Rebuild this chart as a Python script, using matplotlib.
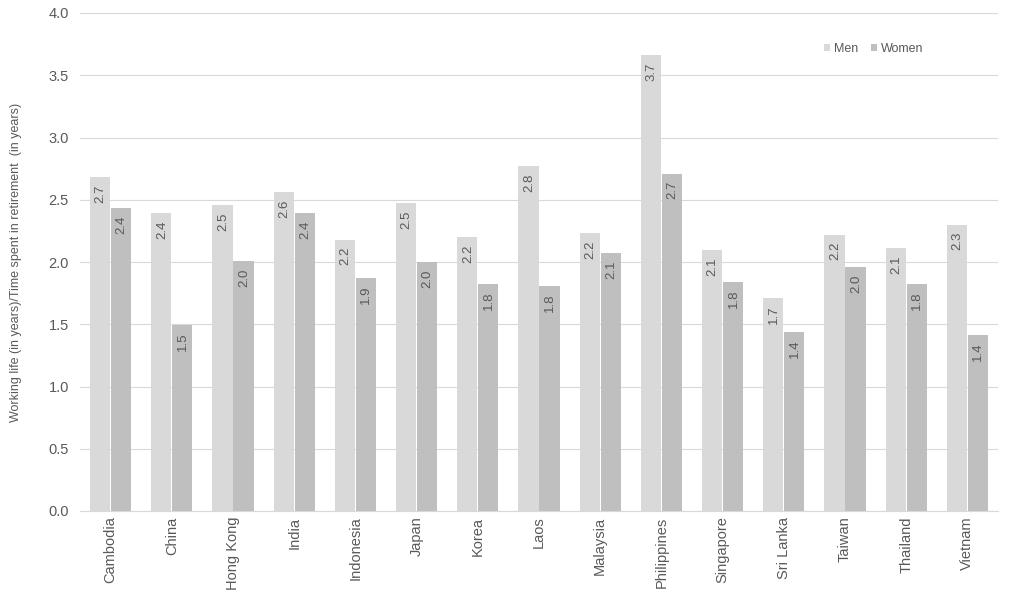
import matplotlib.pyplot as plt
import numpy as np

# Datos
paises = ['Cambodia', 'China', 'Hong Kong', 'India', 'Indonesia', 'Japan', 'Korea', 'Laos',
          'Malaysia', 'Philippines', 'Singapore', 'Sri Lanka', 'Taiwan', 'Thailand', 'Vietnam']
hombres = [2.68, 2.39, 2.46, 2.56, 2.18, 2.47, 2.20, 2.77, 2.23, 3.66, 2.10, 1.71, 2.22, 2.11, 2.30]
mujeres = [2.43, 1.49, 2.01, 2.39, 1.87, 2.00, 1.82, 1.81, 2.07, 2.71, 1.84, 1.44, 1.96, 1.82, 1.41]

gris_texto = '#595959'
plt.rcParams['font.family'] = ['Liberation Sans', 'DejaVu Sans']

fig = plt.figure(figsize=(10.15, 6.08), dpi=100)
ax = fig.add_axes([80 / 1015, 1 - 511 / 608, 918 / 1015, 498 / 608])

x = np.arange(len(paises))
ancho = 0.33
b1 = ax.bar(x - ancho / 2 - 0.005, hombres, ancho, color='#d9d9d9', label='Men', zorder=2)
b2 = ax.bar(x + ancho / 2 + 0.005, mujeres, ancho, color='#bfbfbf', label='Women', zorder=2)

# Etiquetas de valor dentro de la barra, giradas
for barras in (b1, b2):
    for b in barras:
        h = b.get_height()
        ax.text(b.get_x() + b.get_width() / 2 + 0.01, h - 0.06, f'{h:.1f}', rotation=90,
                ha='center', va='top', fontsize=9.5, color=gris_texto)

ax.set_xlim(-0.5, len(paises) - 0.5)
ax.set_ylim(0, 4.0)
ax.set_yticks(np.arange(0, 4.01, 0.5))
ax.set_yticklabels([f'{v:.1f}' for v in np.arange(0, 4.01, 0.5)])
ax.set_xticks(x)
ax.set_xticklabels(paises, rotation=90)
ax.tick_params(axis='both', length=0, colors=gris_texto, labelsize=10.5)
ax.tick_params(axis='x', pad=4)
ax.tick_params(axis='y', pad=8)
ax.grid(axis='y', color='#d9d9d9', linewidth=0.8, zorder=0)
for lado in ['top', 'right', 'left']:
    ax.spines[lado].set_visible(False)
ax.spines['bottom'].set_color('#d9d9d9')

ax.set_ylabel('Working life (in years)/Time spent in retirement  (in years)', color=gris_texto,
              fontsize=9, labelpad=19)

ax.legend(loc='upper right', bbox_to_anchor=(0.931, 0.962), ncol=2, frameon=False, fontsize=9,
          labelcolor=gris_texto, handlelength=0.5, handleheight=0.5, handletextpad=0.3,
          columnspacing=1.0)

plt.savefig('out.png', dpi=100)
